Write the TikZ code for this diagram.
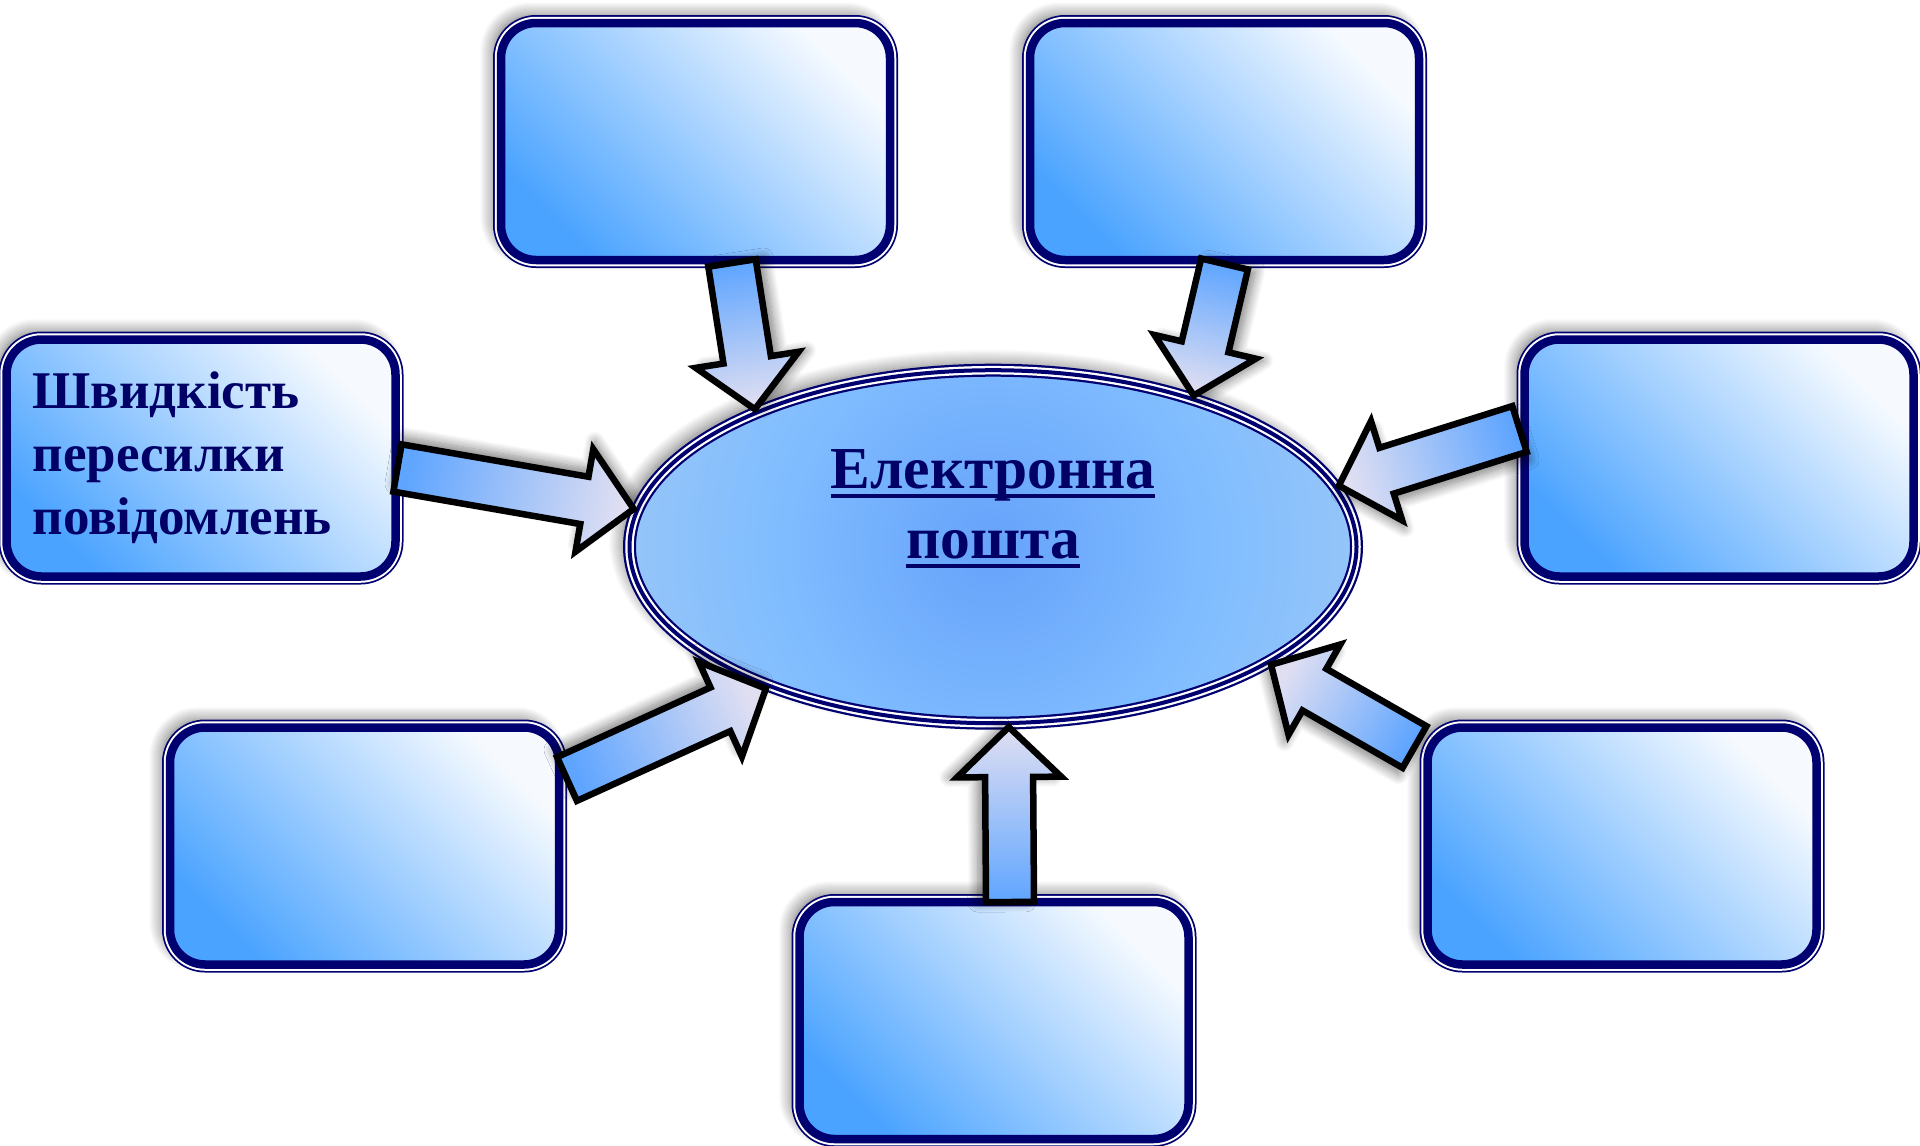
\documentclass[tikz,border=0pt]{standalone}
\usepackage{fontspec}
\setmainfont{Liberation Serif}
\usetikzlibrary{calc,shapes.geometric,shadows.blur}
\definecolor{navy}{HTML}{000070}
\definecolor{tnavy}{HTML}{000066}
\definecolor{bxlo}{HTML}{4AA3FF}
\definecolor{bxhi}{HTML}{F6FAFF}
\definecolor{arlo}{HTML}{5FA5FF}
\definecolor{arhi}{HTML}{E0DFF2}
\definecolor{ea}{HTML}{66A2FA}
\definecolor{eb}{HTML}{80BDFF}
\definecolor{ec}{HTML}{A8CCF2}
\definecolor{ed}{HTML}{EAE6F6}
\pgfdeclareradialshading{ellsh}{\pgfpoint{0bp}{0bp}}{color(0bp)=(ea); color(15bp)=(eb); color(33bp)=(ec); color(50bp)=(ed)}
\newcommand\ulx[1]{\setbox0\hbox{#1}\rlap{\rule[-9pt]{\wd0}{3.6pt}}\box0}
\newcommand\blockarr[5]{%
  \coordinate (hh) at ($(#2)!50pt!(#1)$);
  \path[arrowsty, shading angle=#3, blur shadow={shadow xshift=#4, shadow yshift=#5, shadow blur radius=10pt, shadow blur steps=12, shadow opacity=50}]
    ($(#1)!24pt!90:(#2)$) -- ($(hh)!24pt!90:(#2)$) -- ($(hh)!52pt!90:(#2)$) -- (#2)
    -- ($(hh)!52pt!-90:(#2)$) -- ($(hh)!24pt!-90:(#2)$) -- ($(#1)!24pt!-90:(#2)$) -- cycle;
}
\tikzset{
  box/.style={rectangle, rounded corners=35pt, minimum width=389pt, minimum height=237pt,
    inner sep=0pt, outer sep=0pt,
    blur shadow={shadow xshift=-7pt, shadow yshift=7pt, shadow blur radius=14pt, shadow blur steps=14, shadow opacity=60},
    preaction={draw=navy, line width=16pt},
    preaction={draw=white, line width=12.5pt},
    top color=bxhi, bottom color=bxlo, shading angle=-45,
    draw=navy, line width=8.5pt},
  ellnode/.style={ellipse, minimum width=727pt, minimum height=353pt, inner sep=0pt, outer sep=4pt,
    blur shadow={shadow xshift=-7pt, shadow yshift=7pt, shadow blur radius=14pt, shadow blur steps=14, shadow opacity=55},
    path picture={\shade[shading=ellsh] (path picture bounding box.center) circle (370pt);},
    postaction={draw=navy, line width=13pt},
    postaction={draw=white, line width=8.5pt},
    postaction={draw=navy, line width=4pt}},
  arrowsty/.style={draw=black, line width=6.5pt, line join=miter, top color=arhi, bottom color=arlo},
  labeltext/.style={text=tnavy, inner sep=0pt}
}
\begin{document}
\begin{tikzpicture}[x=1pt,y=-1pt]
\useasboundingbox (0,0) rectangle (1920,1146);
\node[box] (b1) at (695.5,141.5) {};
\node[box] (b2) at (1224.5,141.5) {};
\node[box, text width=337pt, inner xsep=26pt, align=left, text=tnavy,
  font=\fontsize{53}{63}\selectfont\bfseries] (b3) at (201,458) {Швидкість\\пересилки\\повідомлень};
\node[box] (b4) at (1719,458) {};
\node[box] (b5) at (364.5,846) {};
\node[box] (b6) at (1622,846) {};
\node[box] (b7) at (994,1020.5) {};
\node[ellnode] (ell) at (993,546.7) {};
\node[labeltext, anchor=north, align=center, font=\fontsize{59.5}{70}\selectfont\bfseries]
  (etext) at ($(ell.center)+(0,-97)$) {\ulx{Електронна}\\\ulx{пошта}};
\coordinate (s1) at ($(b1.south)+(36.5,3)$);
\coordinate (s2) at ($(b2.south)+(0,4)$);
\coordinate (s3) at ($(b3.east)+(2,10)$);
\coordinate (s4) at ($(b4.west)+(-5,-29)$);
\coordinate (s5) at ($(b5.east)+(8,-67)$);
\coordinate (s6) at ($(b6.west)+(-13,-99)$);
\coordinate (s7) at ($(b7.north)+(16,0)$);
\blockarr{s1}{ell.150}{-170.3}{7.9pt}{1.3pt}
\blockarr{s2}{ell.37.5}{166.3}{7.8pt}{-1.9pt}
\blockarr{s3}{ell.174.9}{-101.4}{1.6pt}{7.8pt}
\blockarr{s4}{ell.10}{107.1}{2.4pt}{-7.6pt}
\blockarr{s5}{ell.212.6}{-67}{-3.1pt}{7.4pt}
\blockarr{s6}{ell.337.3}{59.7}{-4pt}{-6.9pt}
\blockarr{s7}{ell.275.2}{0}{-8pt}{0pt}
\end{tikzpicture}
\end{document}
